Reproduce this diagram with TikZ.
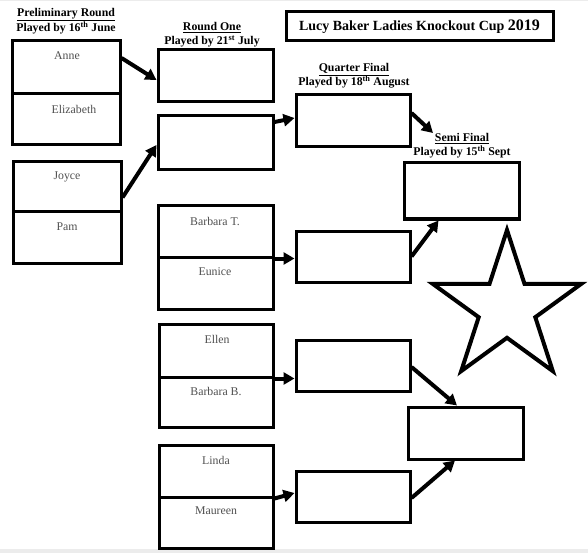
\documentclass[tikz,border=0pt]{standalone}
\usepackage{fontspec}
\setmainfont{Liberation Serif}
\usetikzlibrary{arrows.meta}
\definecolor{namegray}{HTML}{505050}
\begin{document}
\begin{tikzpicture}[x=1pt,y=-1pt,
  box/.style={draw=black,line width=3pt,rectangle,inner sep=0pt},
  nm/.style={font=\fontsize{11.8}{13}\selectfont,text=namegray,inner sep=0pt},
  hdr/.style={font=\bfseries\fontsize{11.8}{14}\selectfont,align=center,inner sep=0pt},
  arr/.style={line width=4pt,-{Triangle[length=11pt,width=12pt]}},
]
\fill[white] (0,0) rectangle (588,553);
\useasboundingbox (0,0) rectangle (588,553);
\fill[gray!15] (0,549) rectangle (588,553);
\fill[gray!15] (0,0) rectangle (588,1.5);

% title
\node[box,minimum width=267pt,minimum height=29pt] (title) at (419.5,26.5)
  {\bfseries\fontsize{14}{15}\selectfont Lucy Baker Ladies Knockout Cup \fontsize{16}{16}\selectfont 2019};

% headers
\node[hdr] (hprelim) at (66,21) {\underline{Preliminary Round}\\Played by 16\textsuperscript{th} June};
\node[hdr] (hone) at (212,35) {\underline{Round One}\\Played by 21\textsuperscript{st} July};
\node[hdr] (hqf) at (354,76) {\underline{Quarter Final}\\Played by 18\textsuperscript{th} August};
\node[hdr] (hsf) at (462,146) {\underline{Semi Final}\\Played by 15\textsuperscript{th} Sept};

% preliminary boxes
\node[box,minimum width=108pt,minimum height=53pt] (anne) at (66,67.5) {};
\node[box,minimum width=108pt,minimum height=51pt] (eliz) at (66,119.5) {};
\node[box,minimum width=108pt,minimum height=50pt] (joyce) at (67,187) {};
\node[box,minimum width=108pt,minimum height=51pt] (pam) at (67,237.5) {};
\node[nm] (tanne) at (67,56) {Anne};
\node[nm] (teliz) at (74,109) {Elizabeth};
\node[nm] (tjoyce) at (67,177) {Joyce};
\node[nm] (tpam) at (67,227) {Pam};

% round one
\node[box,minimum width=115pt,minimum height=52pt] (r1a) at (215.5,76) {};
\node[box,minimum width=115pt,minimum height=54pt] (r1b) at (215.5,143) {};
\node[box,minimum width=115pt,minimum height=51pt] (bt) at (215.5,231.5) {};
\node[box,minimum width=115pt,minimum height=52pt] (eun) at (215.5,283) {};
\node[box,minimum width=114pt,minimum height=53pt] (ellen) at (216,350.5) {};
\node[box,minimum width=114pt,minimum height=50pt] (bb) at (216,402) {};
\node[box,minimum width=114pt,minimum height=52pt] (linda) at (216,471) {};
\node[box,minimum width=114pt,minimum height=51pt] (maur) at (216,522.5) {};
\node[nm] (tbt) at (215,221) {Barbara T.};
\node[nm] (teun) at (215,272) {Eunice};
\node[nm] (tellen) at (217,339) {Ellen};
\node[nm] (tbb) at (216,391) {Barbara B.};
\node[nm] (tlinda) at (216,460) {Linda};
\node[nm] (tmaur) at (216,511) {Maureen};

% quarter final
\node[box,minimum width=114pt,minimum height=52pt] (qf1) at (353,121) {};
\node[box,minimum width=114pt,minimum height=51pt] (qf2) at (353,256.5) {};
\node[box,minimum width=114pt,minimum height=51pt] (qf3) at (353,365.5) {};
\node[box,minimum width=114pt,minimum height=51pt] (qf4) at (353,496.5) {};

% semi final
\node[box,minimum width=115pt,minimum height=56pt] (sf1) at (461.5,191) {};
\node[box,minimum width=115pt,minimum height=52pt] (sf2) at (465.5,433) {};

\coordinate (sfhead) at (433,133);

% arrows
\draw[arr] ([yshift=9.5pt]anne.east) -- ([yshift=-4pt]r1a.west);
\draw[arr] ([yshift=16pt]joyce.south east) -- ([yshift=-2pt]r1b.west);
\draw[arr] ([yshift=21pt]r1b.east) -- ([yshift=3pt]qf1.west);
\draw[arr] ([yshift=8pt]qf1.east) -- (sfhead);
\draw[arr] (bt.south east) -- (bt.south east -| qf2.west);
\draw[arr] (qf2.east) -- ([xshift=-23pt]sf1.south);
\draw[arr] (ellen.south east) -- (ellen.south east -| qf3.west);
\draw[arr] ([yshift=-1.5pt]qf3.east) -- ([xshift=-8.5pt]sf2.north);
\draw[arr] (linda.south east) -- ([yshift=3.5pt]qf4.west);
\draw[arr] ([yshift=-1.5pt]qf4.east) -- ([xshift=-10.5pt]sf2.south);

% star
\draw[line width=4pt,line join=miter,fill=white]
  (507,230) -- (524.5,283.9) -- (581.2,283.9) -- (535.3,317.2)
  -- (552.8,371.1) -- (507,337.8) -- (461.2,371.1) -- (478.7,317.2)
  -- (432.8,283.9) -- (489.5,283.9) -- cycle;
\end{tikzpicture}
\end{document}
